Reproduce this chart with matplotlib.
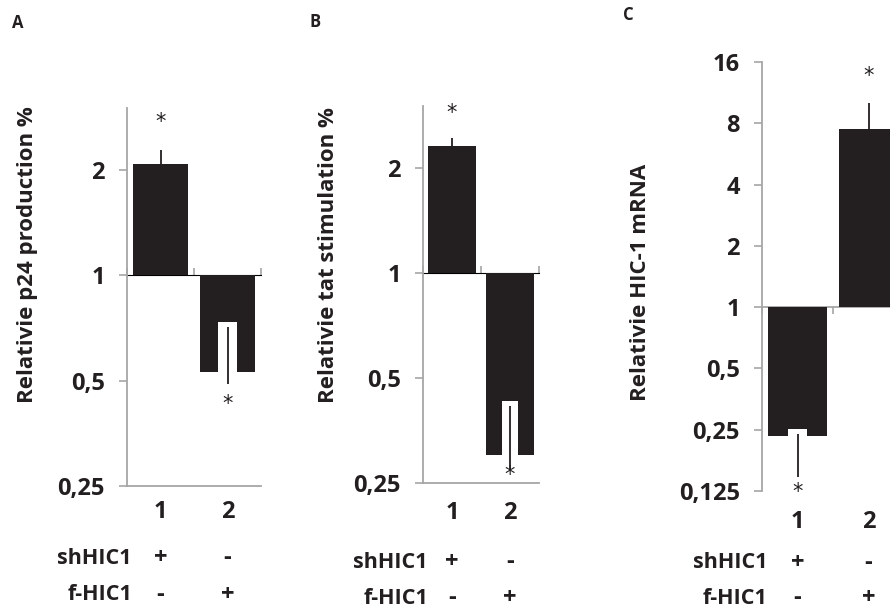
import matplotlib

matplotlib.use("Agg")
import matplotlib.pyplot as plt
import numpy as np

plt.rcParams["font.family"] = ["Open Sans", "DejaVu Sans"]

W, H = 890, 610
INK = "#231f20"
AXIS_GREY = "#a6a6a6"

categories = [1, 2]
shHIC1 = ["+", "-"]
f_HIC1 = ["-", "+"]

# panel A: relative p24 production
a_values = [2.08, 0.53]
a_err_hi = [2.28, 0.71]
a_err_lo = [2.08, 0.49]
a_ticks = [0.25, 0.5, 1, 2]
a_ticklabels = ["0,25", "0,5", "1", "2"]

# panel B: relative tat stimulation
b_values = [2.31, 0.30]
b_err_hi = [2.43, 0.416]
b_err_lo = [2.31, 0.272]
b_ticks = [0.25, 0.5, 1, 2]
b_ticklabels = ["0,25", "0,5", "1", "2"]

# panel C: relative HIC-1 mRNA
c_values = [0.234, 7.5]
c_err_hi = [0.239, 10.1]
c_err_lo = [0.146, 7.5]
c_ticks = [0.125, 0.25, 0.5, 1, 2, 4, 8, 16]
c_ticklabels = ["0,125", "0,25", "0,5", "1", "2", "4", "8", "16"]

TICK_FS = 17
LABEL_FS = 16
ROW_FS = 15.5
STAR_KW = dict(fontsize=15, color=INK, family="DejaVu Sans", ha="center",
               va="center")


def px_box(left, top, right, bottom):
    return [left / W, 1 - bottom / H, (right - left) / W, (bottom - top) / H]


def draw_panel(fig, box, values, err_hi, err_lo, ticks, ticklabels, ylim,
               ylabel, ylabel_xy, letter, letter_xy, star_gap, num_dy,
               row_dy, bottom_spine=True):
    ax = fig.add_axes(box)
    ax.set_yscale("log")
    ax.set_ylim(*ylim)
    ax.set_xlim(0.5, 2.5)

    for s in ["top", "right"]:
        ax.spines[s].set_visible(False)
    ax.spines["left"].set_color(AXIS_GREY)
    ax.spines["left"].set_linewidth(1.3)
    ax.spines["bottom"].set_color(AXIS_GREY)
    ax.spines["bottom"].set_linewidth(1.3)
    ax.spines["bottom"].set_visible(bottom_spine)

    ax.set_yticks(ticks)
    ax.set_yticklabels(ticklabels, fontsize=TICK_FS, fontweight="bold",
                       color=INK)
    ax.yaxis.set_minor_locator(matplotlib.ticker.NullLocator())
    ax.tick_params(axis="y", length=6, width=1.2, color=AXIS_GREY, pad=10)
    ax.set_xticks([])

    # baseline axis at 1
    lo, hi = ylim
    loc = (np.log(1) - np.log(lo)) / (np.log(hi) - np.log(lo))
    base = ax.secondary_xaxis(loc)
    base.set_xticks([0.5, 1.5, 2.5])
    base.set_xticklabels([])
    base.tick_params(axis="x", direction="out", length=5, width=1.2,
                     color=AXIS_GREY)
    base.spines["bottom"].set_color(AXIS_GREY)
    base.spines["bottom"].set_linewidth(1.3)

    x = np.array(categories, dtype=float)
    vals = np.array(values)
    ax.bar(x, vals - 1, bottom=1, width=0.83, color=INK, zorder=2)

    for xi, v, eh, el in zip(x, vals, err_hi, err_lo):
        if v < 1:
            # white halo of the error bar inside the downward bar
            y_disp = ax.transData.transform((xi, eh))[1] + 5
            top = ax.transData.inverted().transform((0, y_disp))[1]
            ax.bar(xi, v - top, bottom=top, width=0.27, color="white",
                   zorder=3)
            ax.vlines(xi, el, eh, color=INK, lw=1.3, zorder=4)
            ax.annotate("*", xy=(xi, el), xytext=(0, -star_gap[1]),
                        textcoords="offset pixels", **STAR_KW)
        else:
            ax.vlines(xi, v, eh, color=INK, lw=1.3, zorder=4)
            ax.annotate("*", xy=(xi, eh), xytext=(0, star_gap[0]),
                        textcoords="offset pixels", **STAR_KW)

    for xi, c, sh, fh in zip(x, categories, shHIC1, f_HIC1):
        for txt, dy in [(str(c), num_dy), (sh, row_dy[0]), (fh, row_dy[1])]:
            ax.annotate(txt, xy=(xi, 0), xycoords=("data", "axes fraction"),
                        xytext=(0, -dy), textcoords="offset pixels",
                        ha="center", va="center", fontsize=TICK_FS,
                        fontweight="bold", color=INK, annotation_clip=False)

    for txt, dy in [("shHIC1", row_dy[0]), ("f-HIC1", row_dy[1])]:
        ax.annotate(txt, xy=(0, 0), xycoords="axes fraction",
                    xytext=(5, -dy), textcoords="offset pixels",
                    ha="right", va="center", fontsize=ROW_FS,
                    fontweight="bold", color=INK, annotation_clip=False)

    fig.text(ylabel_xy[0] / W, 1 - ylabel_xy[1] / H, ylabel, rotation=90,
             ha="center", va="center", fontsize=LABEL_FS, fontweight="bold",
             color=INK)
    fig.text(letter_xy[0] / W, 1 - letter_xy[1] / H, letter, ha="center",
             va="center", fontsize=12, fontweight="bold", color=INK)
    return ax


fig = plt.figure(figsize=(W / 100, H / 100), dpi=100)

draw_panel(fig, px_box(127, 108, 261, 486), a_values, a_err_hi, a_err_lo,
           a_ticks, a_ticklabels, (0.25, 3.0),
           "Relativie p24 production %", (28, 255), "A", (18, 23),
           star_gap=(28, 20), num_dy=26, row_dy=(72, 109))

draw_panel(fig, px_box(423, 106, 539, 483), b_values, b_err_hi, b_err_lo,
           b_ticks, b_ticklabels, (0.25, 3.0),
           "Relativie tat stimulation %", (328, 255), "B", (315, 22),
           star_gap=(25, 5), num_dy=30, row_dy=(79, 115))

draw_panel(fig, px_box(762, 62, 904, 491), c_values, c_err_hi, c_err_lo,
           c_ticks, c_ticklabels, (0.125, 16),
           "Relativie HIC-1 mRNA", (640, 282), "C", (628, 15),
           star_gap=(27, 15), num_dy=31, row_dy=(72, 107),
           bottom_spine=False)

fig.savefig("out.png", dpi=100)
